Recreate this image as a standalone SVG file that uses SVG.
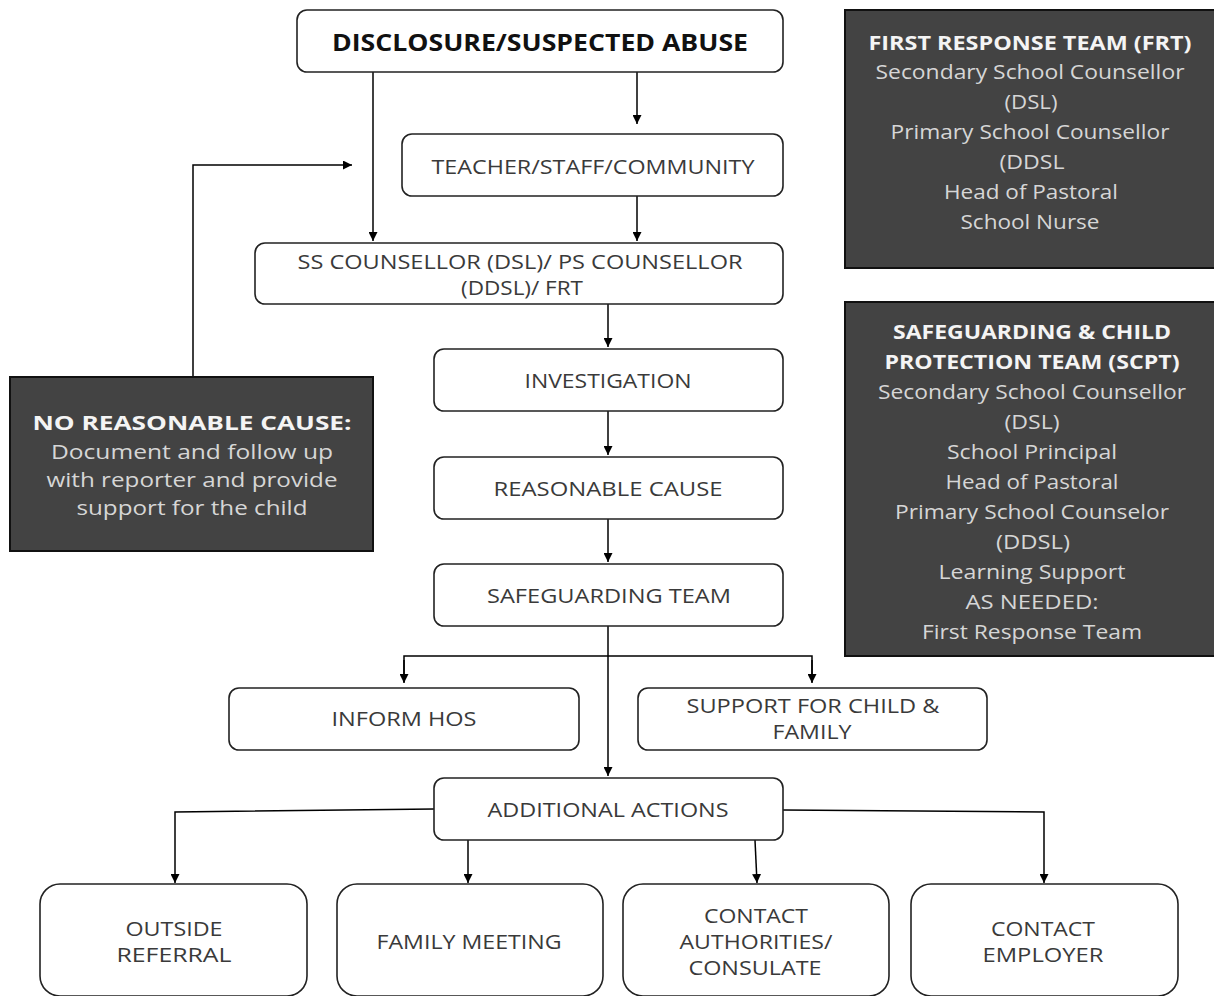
<svg xmlns="http://www.w3.org/2000/svg" width="1214" height="996" viewBox="0 0 1214 996">
<defs>
<marker id="ah" viewBox="0 0 10 10" refX="10" refY="5" markerWidth="9" markerHeight="9" markerUnits="userSpaceOnUse" orient="auto">
<path d="M0,0 L10,5 L0,10 z" fill="#000"/>
</marker>
<style>
.box{fill:#fff;stroke:#222;stroke-width:1.6}
.dark{fill:#434343;stroke:#111;stroke-width:2}
.t{font-family:"Open Sans","Noto Sans","Liberation Sans",sans-serif;font-size:20px;fill:#3a3a3a;text-anchor:middle;dominant-baseline:central}
.tb{font-family:"Open Sans","Noto Sans","Liberation Sans",sans-serif;font-size:23px;font-weight:bold;fill:#111;text-anchor:middle;dominant-baseline:central}
.dt{font-family:"Open Sans","Noto Sans","Liberation Sans",sans-serif;font-size:20px;fill:#d6d6d6;text-anchor:middle;dominant-baseline:central}
.dtb{font-family:"Open Sans","Noto Sans","Liberation Sans",sans-serif;font-size:20px;font-weight:bold;fill:#f4f4f4;text-anchor:middle;dominant-baseline:central}
.c{fill:none;stroke:#000;stroke-width:1.5}
</style>
</defs>
<rect width="1214" height="996" fill="#fff"/>

<g id="connectors">
<path class="c" d="M637,72 V124" marker-end="url(#ah)"/>
<path class="c" d="M373,72 V241" marker-end="url(#ah)"/>
<path class="c" d="M637,196 V241" marker-end="url(#ah)"/>
<path class="c" d="M193,377 V165 H352" marker-end="url(#ah)"/>
<path class="c" d="M608,304 V347" marker-end="url(#ah)"/>
<path class="c" d="M608,411 V455" marker-end="url(#ah)"/>
<path class="c" d="M608,519 V562" marker-end="url(#ah)"/>
<path class="c" d="M608,626 V776" marker-end="url(#ah)"/>
<path class="c" d="M404,682 V656 H812 V682" />
<path class="c" d="M404,660 V683" marker-end="url(#ah)"/>
<path class="c" d="M812,660 V683" marker-end="url(#ah)"/>
<path class="c" d="M434,809 L175,812 V883" marker-end="url(#ah)"/>
<path class="c" d="M468,840 V883" marker-end="url(#ah)"/>
<path class="c" d="M755,840 L757,883" marker-end="url(#ah)"/>
<path class="c" d="M783,810 L1044,812 V883" marker-end="url(#ah)"/>
</g>

<g id="disclosure">
<rect class="box" x="297" y="10" width="486" height="62" rx="10"/>
<text class="tb" x="540" y="42" textLength="416" lengthAdjust="spacingAndGlyphs">DISCLOSURE/SUSPECTED ABUSE</text>
</g>
<g id="teacher">
<rect class="box" x="402" y="134" width="381" height="62" rx="10"/>
<text class="t" x="593" y="166" textLength="323" lengthAdjust="spacingAndGlyphs">TEACHER/STAFF/COMMUNITY</text>
</g>
<g id="counsellor">
<rect class="box" x="255" y="243" width="528" height="61" rx="10"/>
<text class="t" x="520" y="261" textLength="445" lengthAdjust="spacingAndGlyphs">SS COUNSELLOR (DSL)/ PS COUNSELLOR</text>
<text class="t" x="522" y="287" textLength="122" lengthAdjust="spacingAndGlyphs">(DDSL)/ FRT</text>
</g>
<g id="investigation">
<rect class="box" x="434" y="349" width="349" height="62" rx="10"/>
<text class="t" x="608" y="380" textLength="167" lengthAdjust="spacingAndGlyphs">INVESTIGATION</text>
</g>
<g id="reasonable">
<rect class="box" x="434" y="457" width="349" height="62" rx="10"/>
<text class="t" x="608" y="488" textLength="229" lengthAdjust="spacingAndGlyphs">REASONABLE CAUSE</text>
</g>
<g id="safeguarding">
<rect class="box" x="434" y="564" width="349" height="62" rx="10"/>
<text class="t" x="609" y="595" textLength="244" lengthAdjust="spacingAndGlyphs">SAFEGUARDING TEAM</text>
</g>
<g id="inform-hos">
<rect class="box" x="229" y="688" width="350" height="62" rx="10"/>
<text class="t" x="404" y="718" textLength="145" lengthAdjust="spacingAndGlyphs">INFORM HOS</text>
</g>
<g id="support">
<rect class="box" x="638" y="688" width="349" height="62" rx="10"/>
<text class="t" x="813" y="705" textLength="253" lengthAdjust="spacingAndGlyphs">SUPPORT FOR CHILD &amp;</text>
<text class="t" x="812" y="731" textLength="79" lengthAdjust="spacingAndGlyphs">FAMILY</text>
</g>
<g id="additional">
<rect class="box" x="434" y="778" width="349" height="62" rx="10"/>
<text class="t" x="608" y="809" textLength="241" lengthAdjust="spacingAndGlyphs">ADDITIONAL ACTIONS</text>
</g>
<g id="outside-referral">
<rect class="box" x="40" y="884" width="267" height="112" rx="20"/>
<text class="t" x="174" y="928" textLength="97" lengthAdjust="spacingAndGlyphs">OUTSIDE</text>
<text class="t" x="174" y="954" textLength="115" lengthAdjust="spacingAndGlyphs">REFERRAL</text>
</g>
<g id="family-meeting">
<rect class="box" x="337" y="884" width="266" height="112" rx="20"/>
<text class="t" x="469" y="941" textLength="185" lengthAdjust="spacingAndGlyphs">FAMILY MEETING</text>
</g>
<g id="contact-authorities">
<rect class="box" x="623" y="884" width="266" height="112" rx="20"/>
<text class="t" x="756" y="915" textLength="104" lengthAdjust="spacingAndGlyphs">CONTACT</text>
<text class="t" x="756" y="941" textLength="153" lengthAdjust="spacingAndGlyphs">AUTHORITIES/</text>
<text class="t" x="755" y="967" textLength="133" lengthAdjust="spacingAndGlyphs">CONSULATE</text>
</g>
<g id="contact-employer">
<rect class="box" x="911" y="884" width="267" height="112" rx="20"/>
<text class="t" x="1043" y="928" textLength="104" lengthAdjust="spacingAndGlyphs">CONTACT</text>
<text class="t" x="1043" y="954" textLength="121" lengthAdjust="spacingAndGlyphs">EMPLOYER</text>
</g>

<g id="frt">
<rect class="dark" x="845" y="10" width="372" height="258"/>
<text class="dtb" x="1030" y="42" textLength="323" lengthAdjust="spacingAndGlyphs">FIRST RESPONSE TEAM (FRT)</text>
<text class="dt" x="1030" y="71" textLength="309" lengthAdjust="spacingAndGlyphs">Secondary School Counsellor</text>
<text class="dt" x="1031" y="101" textLength="53" lengthAdjust="spacingAndGlyphs">(DSL)</text>
<text class="dt" x="1030" y="131" textLength="279" lengthAdjust="spacingAndGlyphs">Primary School Counsellor</text>
<text class="dt" x="1032" y="161" textLength="65" lengthAdjust="spacingAndGlyphs">(DDSL</text>
<text class="dt" x="1031" y="191" textLength="174" lengthAdjust="spacingAndGlyphs">Head of Pastoral</text>
<text class="dt" x="1030" y="221" textLength="139" lengthAdjust="spacingAndGlyphs">School Nurse</text>
</g>
<g id="scpt">
<rect class="dark" x="845" y="302" width="372" height="354"/>
<text class="dtb" x="1032" y="331" textLength="278" lengthAdjust="spacingAndGlyphs">SAFEGUARDING &amp; CHILD</text>
<text class="dtb" x="1032" y="361" textLength="295" lengthAdjust="spacingAndGlyphs">PROTECTION TEAM (SCPT)</text>
<text class="dt" x="1032" y="391" textLength="308" lengthAdjust="spacingAndGlyphs">Secondary School Counsellor</text>
<text class="dt" x="1032" y="421" textLength="55" lengthAdjust="spacingAndGlyphs">(DSL)</text>
<text class="dt" x="1032" y="451" textLength="170" lengthAdjust="spacingAndGlyphs">School Principal</text>
<text class="dt" x="1032" y="481" textLength="173" lengthAdjust="spacingAndGlyphs">Head of Pastoral</text>
<text class="dt" x="1032" y="511" textLength="274" lengthAdjust="spacingAndGlyphs">Primary School Counselor</text>
<text class="dt" x="1033" y="541" textLength="74" lengthAdjust="spacingAndGlyphs">(DDSL)</text>
<text class="dt" x="1032" y="571" textLength="187" lengthAdjust="spacingAndGlyphs">Learning Support</text>
<text class="dt" x="1032" y="601" textLength="133" lengthAdjust="spacingAndGlyphs">AS NEEDED:</text>
<text class="dt" x="1032" y="631" textLength="220" lengthAdjust="spacingAndGlyphs">First Response Team</text>
</g>
<g id="no-reasonable-cause">
<rect class="dark" x="10" y="377" width="363" height="174"/>
<text class="dtb" x="192" y="422" font-size="22" textLength="319" lengthAdjust="spacingAndGlyphs">NO REASONABLE CAUSE:</text>
<text class="dt" x="192" y="451" font-size="22" textLength="282" lengthAdjust="spacingAndGlyphs">Document and follow up</text>
<text class="dt" x="192" y="479" font-size="22" textLength="291" lengthAdjust="spacingAndGlyphs">with reporter and provide</text>
<text class="dt" x="192" y="507" font-size="22" textLength="231" lengthAdjust="spacingAndGlyphs">support for the child</text>
</g>
</svg>
